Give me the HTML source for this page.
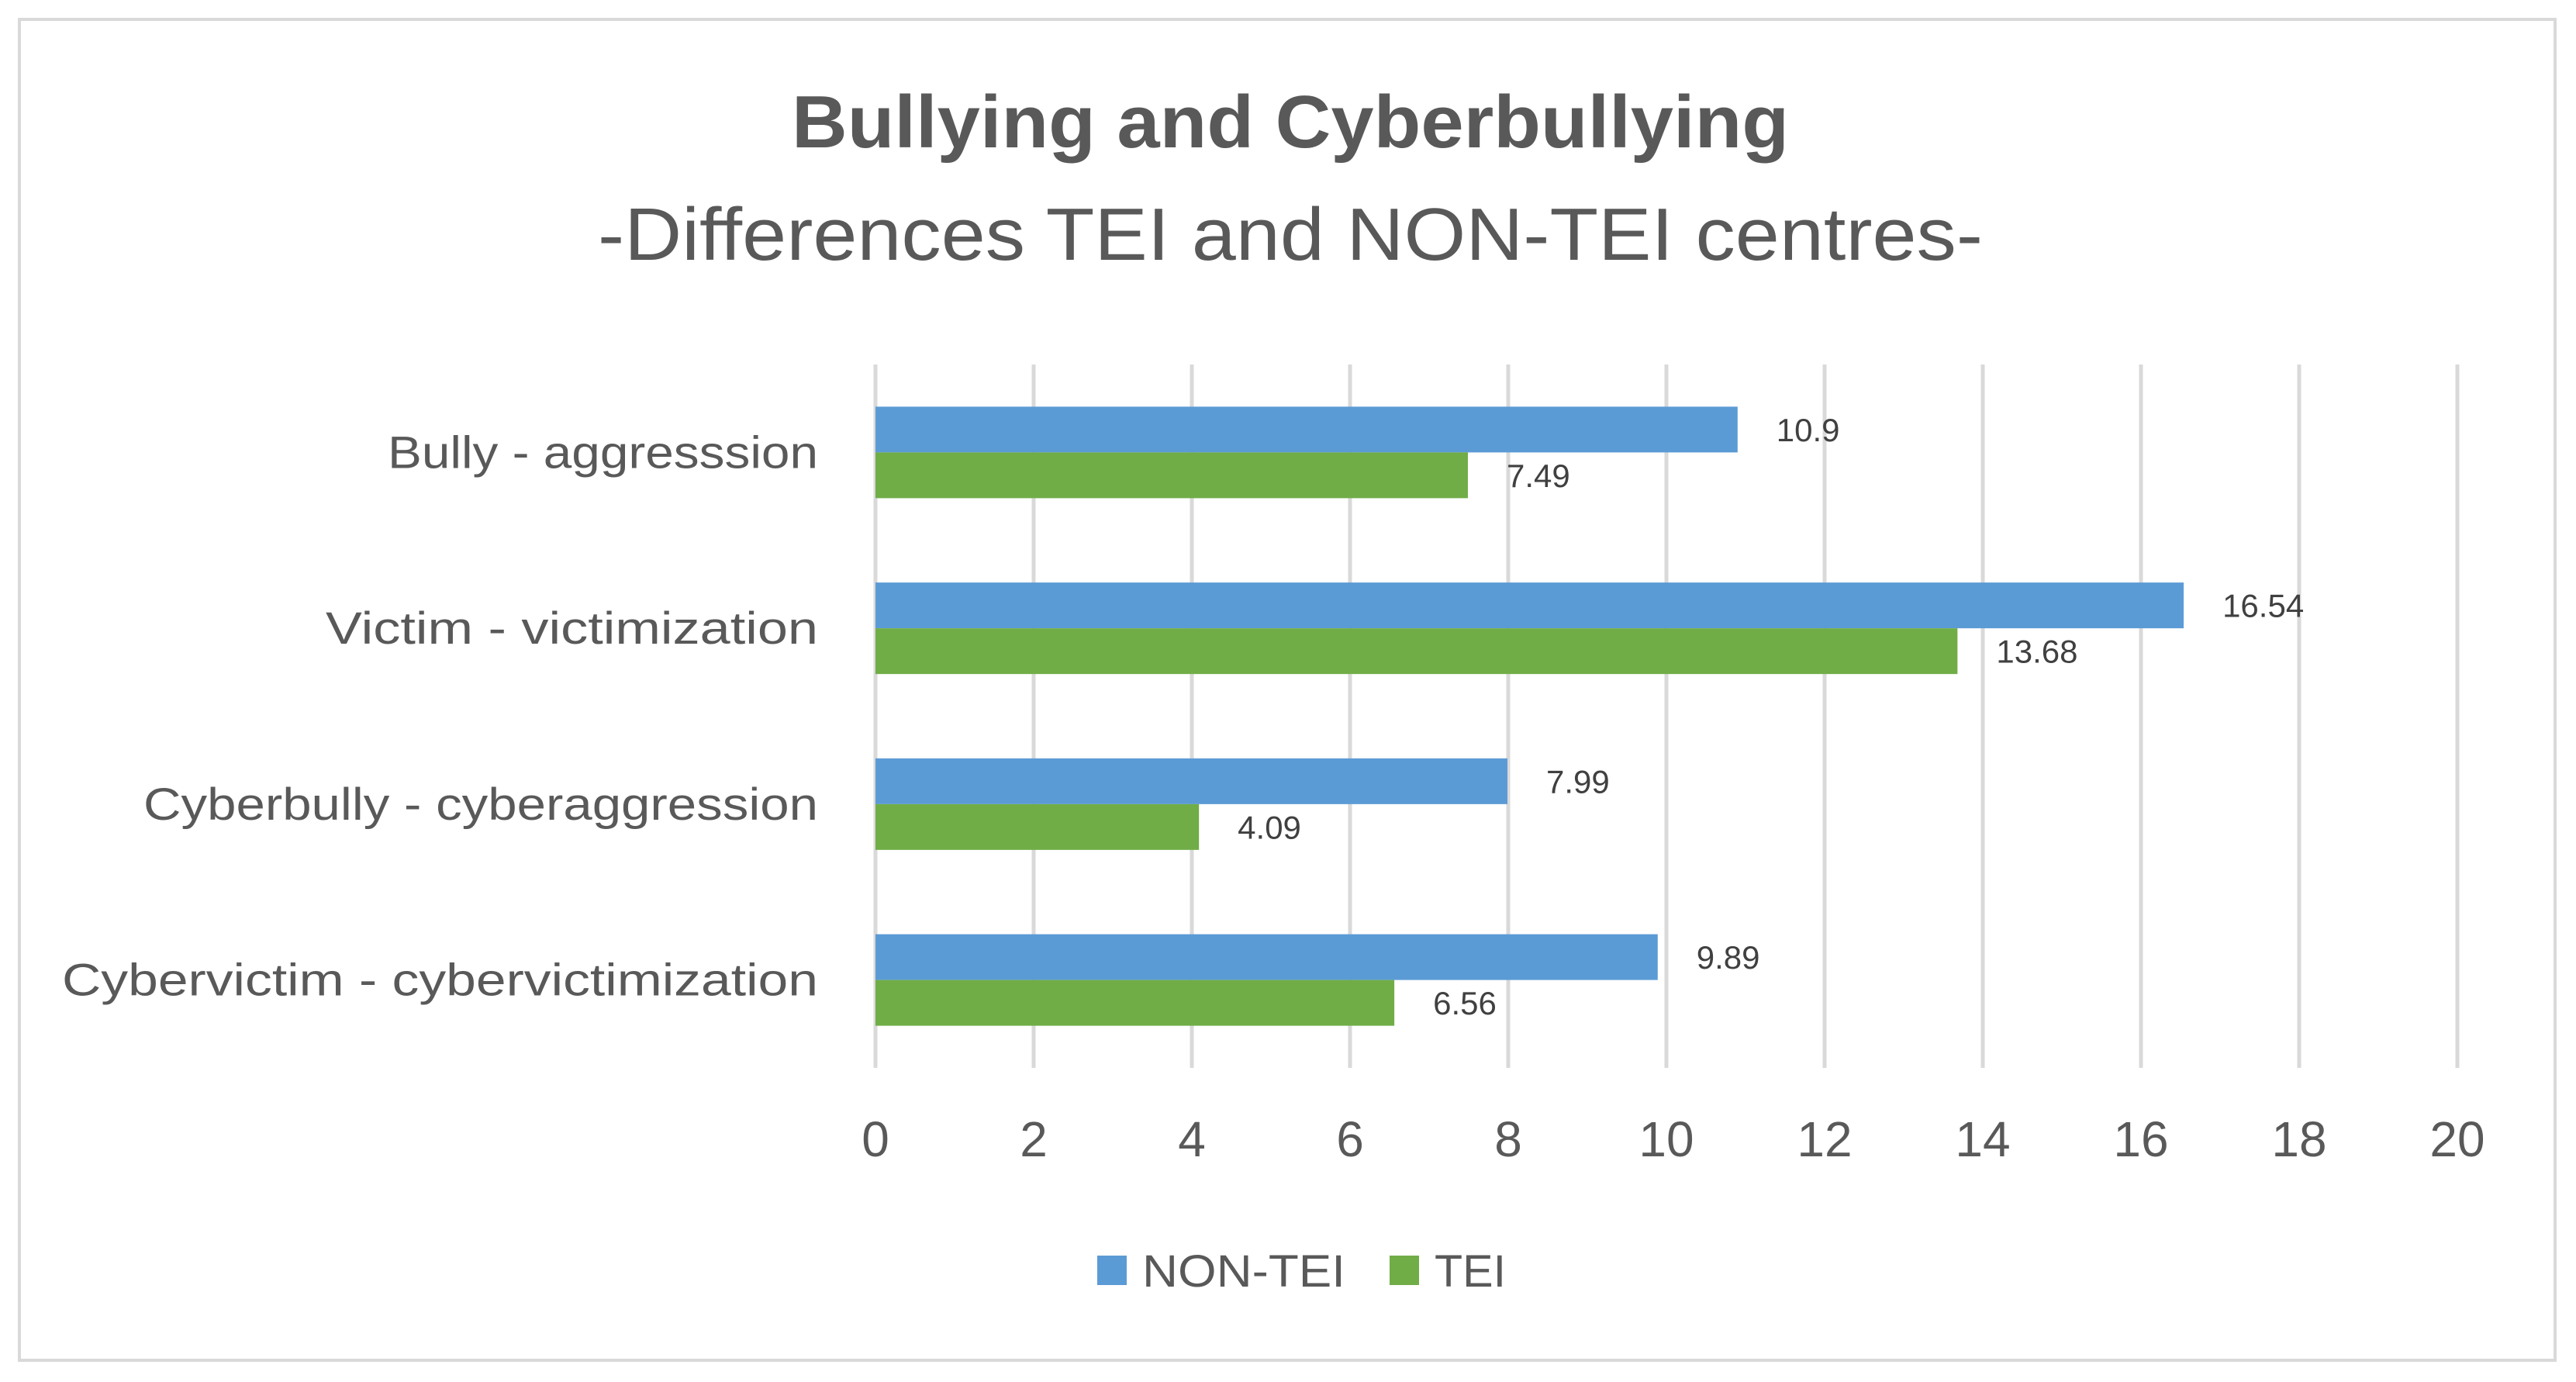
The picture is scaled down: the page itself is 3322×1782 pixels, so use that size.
<!DOCTYPE html>
<html><head><meta charset="utf-8"><style>
html,body{margin:0;padding:0;background:#fff;}
svg{display:block;font-family:"Liberation Sans",sans-serif;}
</style></head><body>
<svg id="chart" width="3322" height="1782" viewBox="0 0 3322 1782">
<rect x="25" y="25" width="3270" height="1729" fill="#fff" stroke="#d9d9d9" stroke-width="4"/>
<text x="1664" y="190" text-anchor="middle" font-size="96" font-weight="bold" fill="#595959" textLength="1286" lengthAdjust="spacingAndGlyphs">Bullying and Cyberbullying</text>
<text x="1664" y="335" text-anchor="middle" font-size="96" fill="#595959" textLength="1786" lengthAdjust="spacingAndGlyphs">-Differences TEI and NON-TEI centres-</text>
<g id="grid"></g>
<g id="bars"></g>
<g id="labels"></g>
<g>
<rect x="1415" y="1619" width="38" height="38" fill="#5b9bd5"/>
<text x="1473" y="1659" font-size="58" fill="#595959" textLength="262" lengthAdjust="spacingAndGlyphs">NON-TEI</text>
<rect x="1792" y="1619" width="38" height="38" fill="#70ad47"/>
<text x="1850" y="1659" font-size="58" fill="#595959" textLength="92" lengthAdjust="spacingAndGlyphs">TEI</text>
</g>
</svg>
<script>
const categories = ["Bully - aggresssion","Victim - victimization","Cyberbully - cyberaggression","Cybervictim - cybervictimization"];
const nonTei = [10.9, 16.54, 7.99, 9.89];
const tei = [7.49, 13.68, 4.09, 6.56];
const ticks = [0,2,4,6,8,10,12,14,16,18,20];
const catWidths = [555, 635, 870, 975];

const NS = "http://www.w3.org/2000/svg";
const x0 = 1129, xMax = 3169, vMax = 20;
const yTop = 470, yBottom = 1377;
const band = (yBottom - yTop) / categories.length;
const barH = 59;
function xs(v){ return x0 + (xMax - x0) * v / vMax; }
function mk(tag, attrs, parent){ const e = document.createElementNS(NS, tag); for (const k in attrs) e.setAttribute(k, attrs[k]); parent.appendChild(e); return e; }
const gridG = document.getElementById('grid'), barsG = document.getElementById('bars'), labelsG = document.getElementById('labels');
ticks.forEach(t => {
  const l = mk('line', {x1: xs(t), x2: xs(t), y1: yTop, y2: yBottom, stroke: '#d9d9d9', 'stroke-width': 5}, gridG);
  
  
  const tx = mk('text', {x: xs(t), y: 1491, 'text-anchor': 'middle', 'font-size': 64, fill: '#595959'}, labelsG);
  tx.textContent = t;
  
  
});
categories.forEach((c, i) => {
  const cy = yTop + band * (i + 0.5);
  const ct = mk('text', {x: 1055, y: cy + 20, 'text-anchor': 'end', 'font-size': 58, fill: '#595959', textLength: catWidths[i], lengthAdjust: 'spacingAndGlyphs'}, labelsG);
  ct.textContent = c;
  
  
  const b1 = mk('rect', {x: xs(0), y: cy - barH, width: xs(nonTei[i]) - xs(0), height: barH, fill: '#5b9bd5'}, barsG);
  
  
  const b2 = mk('rect', {x: xs(0), y: cy, width: xs(tei[i]) - xs(0), height: barH, fill: '#70ad47'}, barsG);
  
  
  const l1 = mk('text', {x: xs(nonTei[i]) + 50, y: cy - barH / 2 + 15, 'font-size': 42, fill: '#404040'}, labelsG);
  l1.textContent = nonTei[i];
  
  
  const l2 = mk('text', {x: xs(tei[i]) + 50, y: cy + barH / 2 + 15, 'font-size': 42, fill: '#404040'}, labelsG);
  l2.textContent = tei[i];
  
  
});
</script>
</body></html>
